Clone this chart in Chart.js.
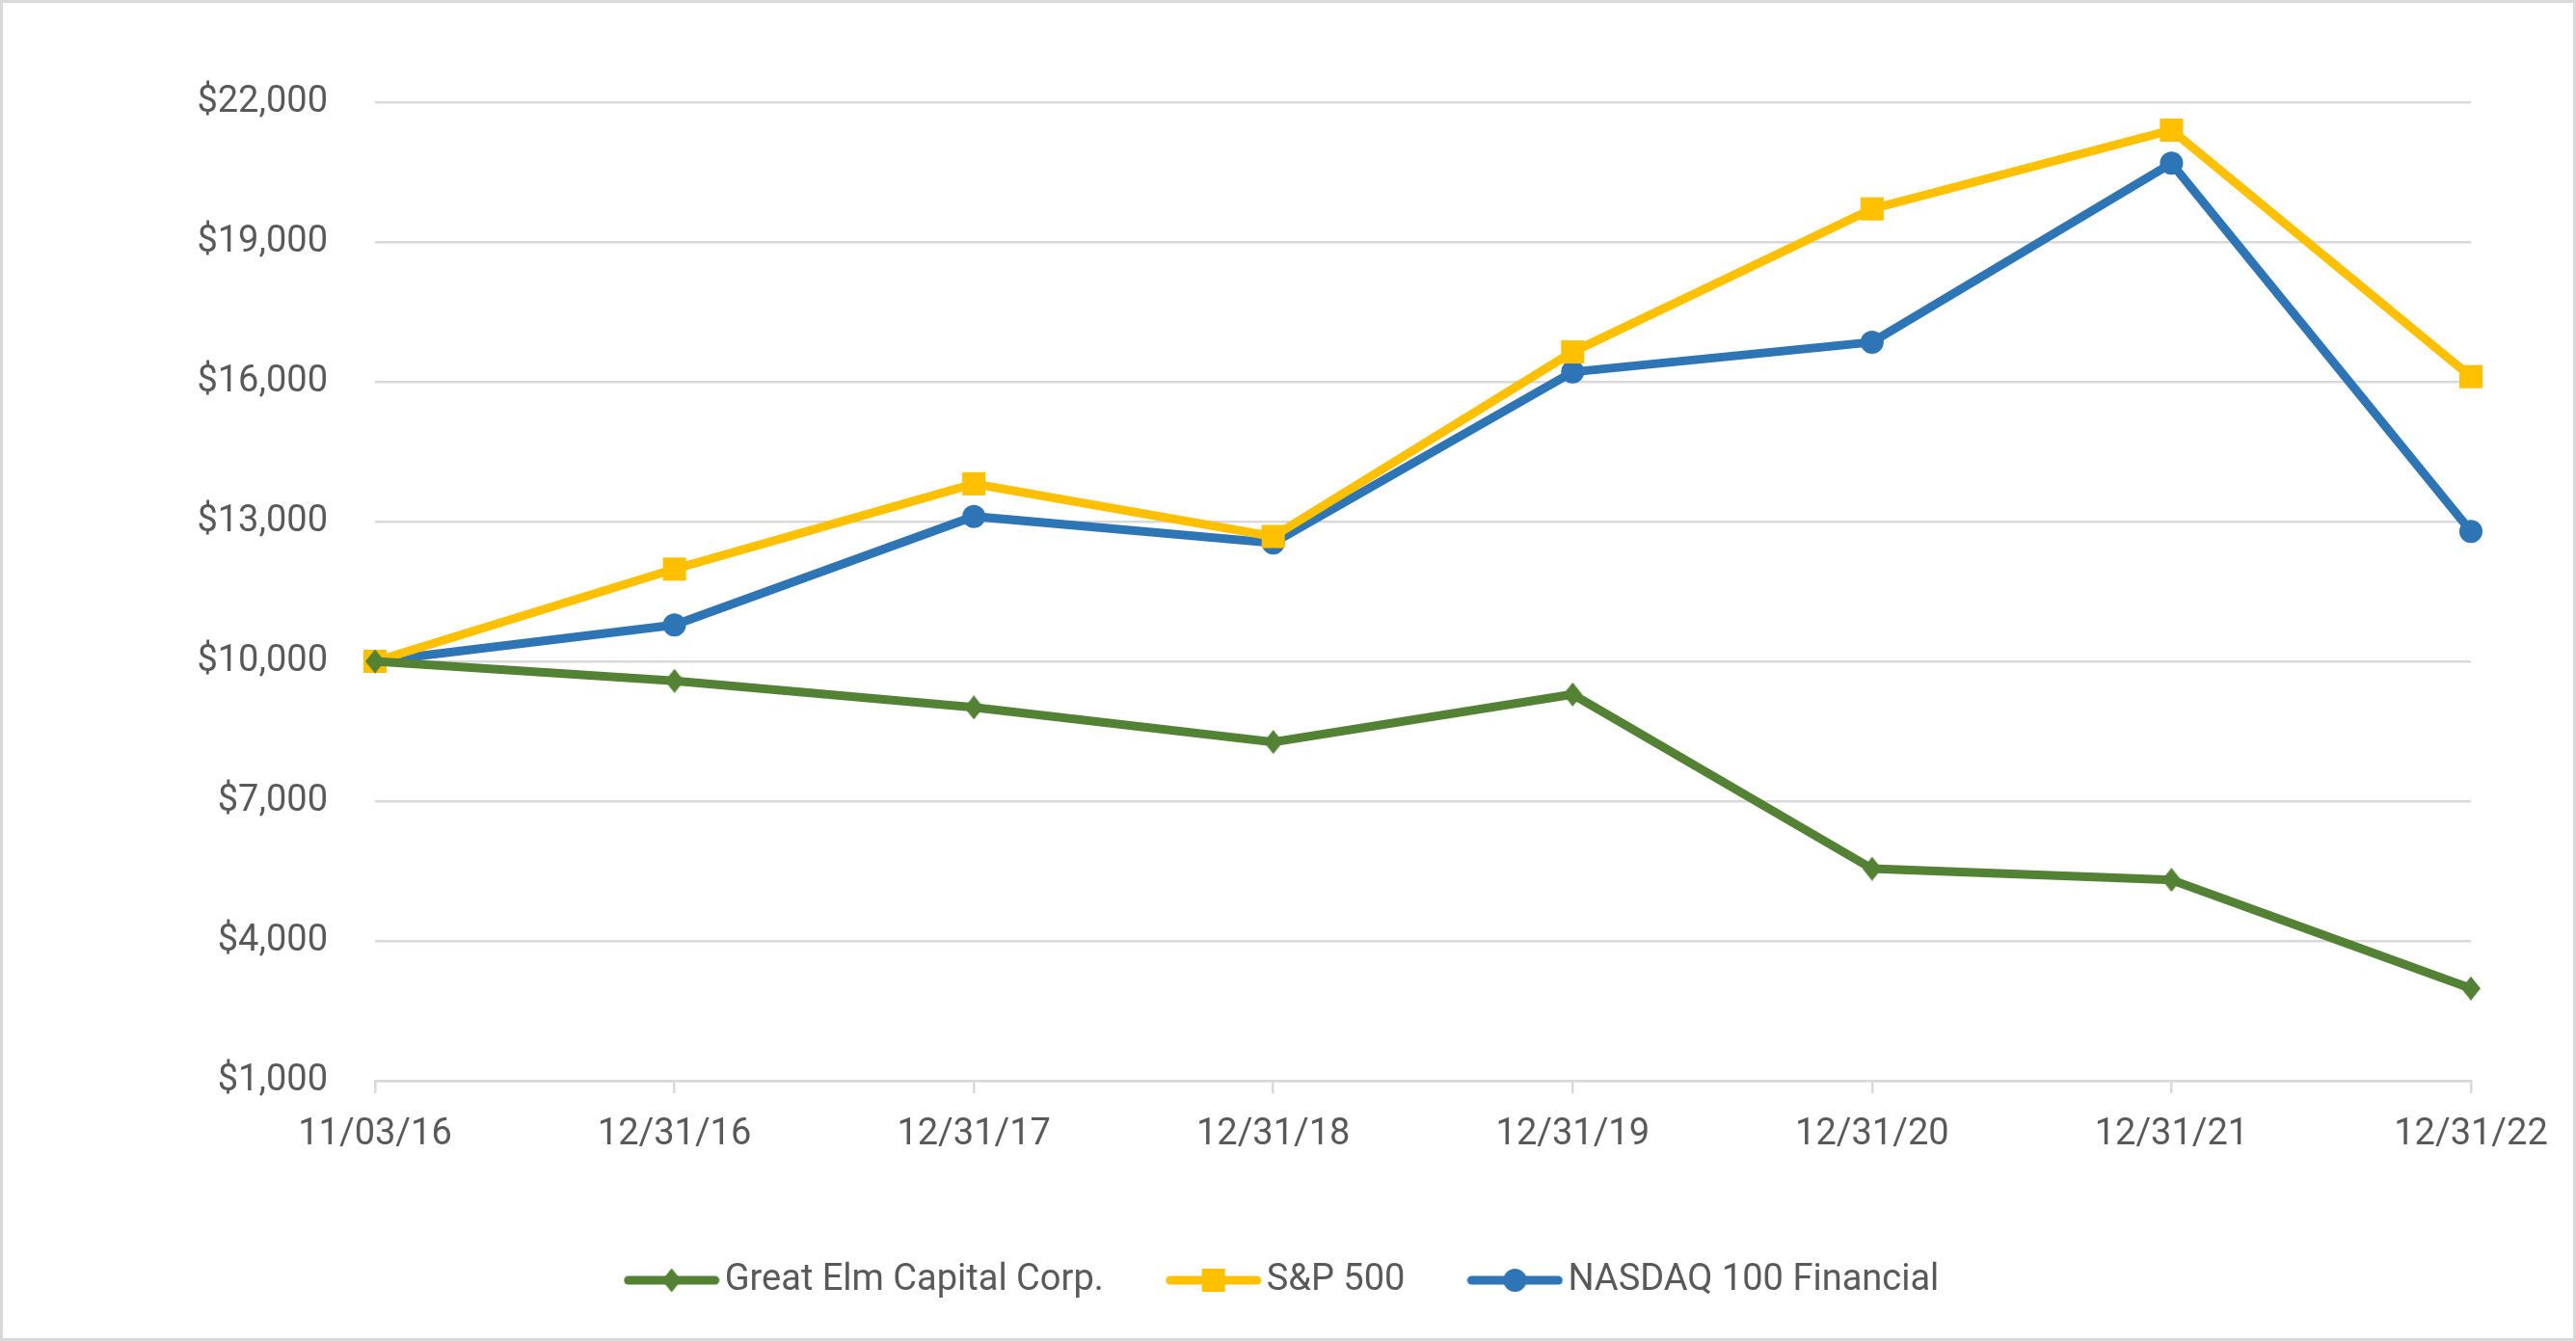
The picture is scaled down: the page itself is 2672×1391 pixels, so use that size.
<!DOCTYPE html>
<html><head><meta charset="utf-8">
<script src="https://cdn.jsdelivr.net/npm/chart.js@4/dist/chart.umd.min.js"></script>
<style>html,body{margin:0;padding:0;background:#fff;overflow:hidden;} #wrap{width:2672px;height:1391px;}</style>
</head><body><div id="wrap"><canvas id="c" width="2672" height="1391"></canvas></div>
<script>
const categories = ['11/03/16','12/31/16','12/31/17','12/31/18','12/31/19','12/31/20','12/31/21','12/31/22'];
const greatElm = [10000, 9580, 9010, 8270, 9290, 5550, 5310, 2980];
const sp500 = [10000, 11980, 13810, 12680, 16640, 19710, 21400, 16110];
const nasdaqFin = [10000, 10780, 13110, 12540, 16210, 16850, 20690, 12790];
const yTicks = [1000, 4000, 7000, 10000, 13000, 16000, 19000, 22000];
const seriesNames = ['Great Elm Capital Corp.', 'S&P 500', 'NASDAQ 100 Financial'];
const seriesColors = ['#548235', '#FFC000', '#2E75B6'];
const seriesMarkers = ['diamond', 'rect', 'circle'];
const markerRadius = [12, 17, 12];

const FONT = 'Roboto';
const FSIZE = 38;
const TEXT = '#595959';
const GRID = '#D9D9D9';
const LINEW = 9;

function diamondPath(ctx, cx, cy) {
  ctx.moveTo(cx, cy - 12.5); ctx.lineTo(cx + 10, cy); ctx.lineTo(cx, cy + 12.5); ctx.lineTo(cx - 10, cy); ctx.closePath();
}
function diamondImage(color) {
  const c = document.createElement('canvas');
  c.width = 20; c.height = 25;
  const ctx = c.getContext('2d');
  ctx.fillStyle = color; ctx.beginPath(); diamondPath(ctx, 10, 12.5); ctx.fill();
  return c;
}
function legendIcon(color, marker) {
  const c = document.createElement('canvas');
  c.width = 100; c.height = 30;
  const ctx = c.getContext('2d');
  ctx.strokeStyle = color; ctx.fillStyle = color;
  ctx.lineWidth = LINEW; ctx.lineCap = 'round';
  ctx.beginPath(); ctx.moveTo(5, 15); ctx.lineTo(95, 15); ctx.stroke();
  ctx.beginPath();
  if (marker === 'diamond') { diamondPath(ctx, 50, 15); }
  else if (marker === 'rect') { ctx.rect(38, 3, 24, 24); }
  else { ctx.arc(50, 15, 12, 0, Math.PI * 2); }
  ctx.fill();
  return c;
}
const legendIcons = seriesColors.map((c, i) => legendIcon(c, seriesMarkers[i]));
const pointStyles = seriesMarkers.map((m, i) => m === 'diamond' ? diamondImage(seriesColors[i]) : m);

const seriesData = [greatElm, sp500, nasdaqFin];
const datasets = seriesData.map((d, i) => ({
  label: seriesNames[i],
  data: d,
  borderColor: seriesColors[i],
  backgroundColor: seriesColors[i],
  pointBackgroundColor: seriesColors[i],
  pointBorderColor: seriesColors[i],
  pointBorderWidth: 0,
  borderWidth: LINEW,
  pointStyle: pointStyles[i],
  pointRadius: markerRadius[i],
  pointHoverRadius: markerRadius[i],
  tension: 0,
  fill: false
}));

const frame = {
  id: 'frame',
  beforeDraw(chart) {
    const ctx = chart.ctx;
    ctx.save(); ctx.fillStyle = '#fff'; ctx.fillRect(0, 0, chart.width, chart.height); ctx.restore();
  },
  afterDraw(chart) {
    const ctx = chart.ctx;
    ctx.save(); ctx.strokeStyle = GRID; ctx.lineWidth = 3;
    ctx.strokeRect(1.5, 1.5, chart.width - 3, chart.height - 3); ctx.restore();
  }
};

new Chart(document.getElementById('c'), {
  type: 'line',
  data: { labels: categories, datasets },
  plugins: [frame],
  options: {
    responsive: false,
    animation: false,
    devicePixelRatio: 1,
    layout: { padding: { left: 109, right: 109, top: 106, bottom: 34 } },
    plugins: {
      tooltip: { enabled: false },
      legend: {
        position: 'bottom',
        align: 'center',
        labels: {
          usePointStyle: true,
          pointStyleWidth: 72,
          padding: 78,
          color: TEXT,
          font: { family: FONT, size: FSIZE },
          generateLabels(chart) {
            return chart.data.datasets.map((ds, i) => ({
              text: ds.label, pointStyle: legendIcons[i], fillStyle: ds.borderColor,
              strokeStyle: ds.borderColor, lineWidth: 0, hidden: false, datasetIndex: i, fontColor: TEXT
            }));
          }
        }
      }
    },
    scales: {
      x: {
        offset: false,
        grid: { display: true, drawOnChartArea: false, drawTicks: true, tickLength: 13, color: GRID, lineWidth: 2.5 },
        border: { display: true, color: GRID, width: 2.5 },
        ticks: { color: TEXT, font: { family: FONT, size: FSIZE }, padding: 21, maxRotation: 0, autoSkip: false },
        afterFit(scale) { scale.height = 110; }
      },
      y: {
        min: yTicks[0],
        max: yTicks[yTicks.length - 1],
        afterBuildTicks(scale) { scale.ticks = yTicks.map(v => ({ value: v })); },
        grid: { color: GRID, lineWidth: 2.5, drawTicks: false },
        border: { display: false },
        ticks: {
          color: TEXT, font: { family: FONT, size: FSIZE }, padding: 49,
          callback: v => '$' + v.toLocaleString('en-US')
        },
        afterFit(scale) { scale.width = 280; }
      }
    }
  }
});
</script>
</body></html>
